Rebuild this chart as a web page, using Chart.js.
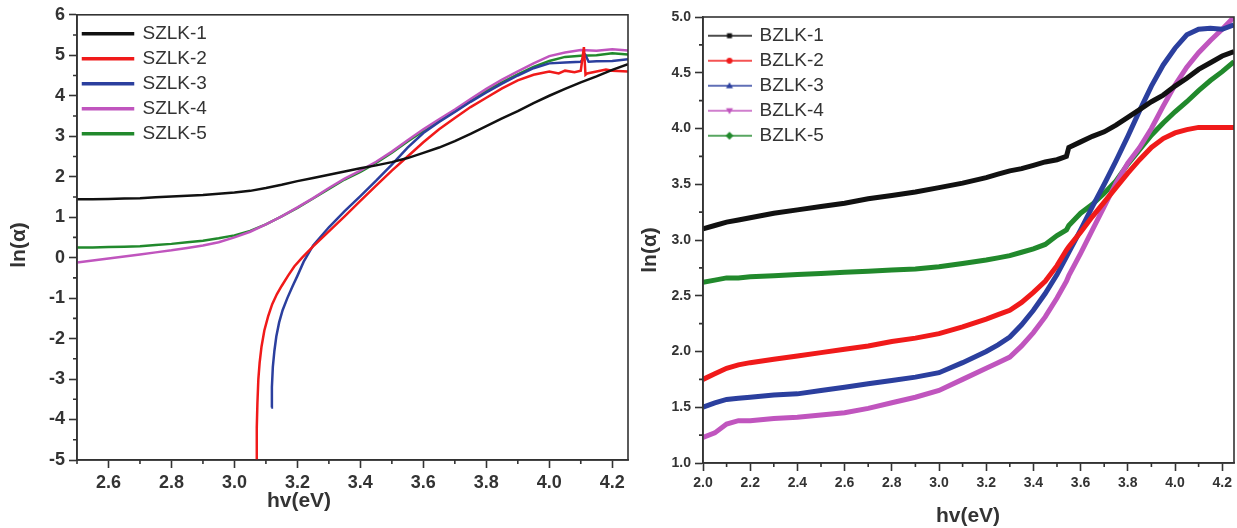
<!DOCTYPE html>
<html>
<head>
<meta charset="utf-8">
<title>ln(α) vs hv</title>
<script src="https://cdn.jsdelivr.net/npm/chart.js@4.4.1/dist/chart.umd.min.js"></script>
<style>
    body { margin: 0; background: #fff; }
    #wrap { position: relative; width: 1237px; height: 528px; overflow: hidden; }
    #wrap canvas { position: absolute; top: 0; }
    #szlkChart { left: 0; }
    #bzlkChart { left: 630px; }
</style>
</head>
<body>
<div id="wrap">
    <canvas id="szlkChart" width="640" height="528"></canvas>
    <canvas id="bzlkChart" width="607" height="528"></canvas>
</div>
<script>
// ---- left panel (SZLK) ----
const szlkEnergy = [2.50, 2.55, 2.60, 2.65, 2.70, 2.75, 2.80, 2.85, 2.90, 2.95,
    3.00, 3.05, 3.10, 3.15, 3.20, 3.25, 3.30, 3.35, 3.40, 3.45,
    3.50, 3.55, 3.60, 3.65, 3.70, 3.75, 3.80, 3.85, 3.90, 3.95,
    4.00, 4.05, 4.10, 4.15, 4.20, 4.25];
const szlk1 = [1.44, 1.44, 1.45, 1.46, 1.47, 1.49, 1.51, 1.53, 1.55, 1.58,
    1.61, 1.65, 1.72, 1.80, 1.89, 1.97, 2.05, 2.13, 2.21, 2.28,
    2.36, 2.46, 2.59, 2.72, 2.88, 3.06, 3.25, 3.44, 3.62, 3.82,
    4.00, 4.17, 4.33, 4.48, 4.64, 4.78];
const szlk4 = [-0.12, -0.07, -0.02, 0.03, 0.08, 0.13, 0.18, 0.24, 0.30, 0.38,
    0.50, 0.64, 0.82, 1.02, 1.24, 1.47, 1.72, 1.95, 2.15, 2.37,
    2.62, 2.90, 3.17, 3.42, 3.66, 3.92, 4.17, 4.40, 4.60, 4.80,
    4.98, 5.07, 5.13, 5.11, 5.15, 5.12];
const szlk5 = [0.25, 0.25, 0.26, 0.27, 0.28, 0.31, 0.34, 0.38, 0.42, 0.48,
    0.55, 0.66, 0.82, 1.02, 1.23, 1.46, 1.70, 1.93, 2.12, 2.34,
    2.59, 2.87, 3.13, 3.38, 3.62, 3.87, 4.12, 4.33, 4.53, 4.71,
    4.86, 4.96, 4.99, 5.00, 5.05, 5.02];
const szlk2Energy = [3.070, 3.071, 3.073, 3.076, 3.080, 3.086, 3.095, 3.107, 3.120, 3.135,
    3.150, 3.170, 3.190, 3.215, 3.25, 3.30, 3.35, 3.40, 3.45, 3.50,
    3.55, 3.60, 3.65, 3.70, 3.75, 3.80, 3.85, 3.90, 3.95, 4.00,
    4.03, 4.05, 4.08, 4.10, 4.11, 4.115, 4.12, 4.15, 4.18, 4.20, 4.25];
const szlk2 = [-5.00, -4.20, -3.60, -3.00, -2.60, -2.20, -1.80, -1.45, -1.15, -0.90,
    -0.70, -0.45, -0.22, 0.00, 0.28, 0.65, 1.02, 1.40, 1.78, 2.15,
    2.50, 2.85, 3.17, 3.45, 3.72, 3.95, 4.18, 4.38, 4.52, 4.60,
    4.55, 4.62, 4.58, 4.62, 5.20, 4.52, 4.55, 4.60, 4.65, 4.62, 4.60];
const szlk3Energy = [3.117, 3.119, 3.122, 3.127, 3.133, 3.142, 3.153, 3.168, 3.185, 3.200,
    3.220, 3.25, 3.30, 3.35, 3.40, 3.45, 3.50, 3.55, 3.60, 3.65,
    3.70, 3.75, 3.80, 3.85, 3.90, 3.95, 4.00, 4.05, 4.10, 4.115,
    4.125, 4.15, 4.20, 4.25];
const szlk3 = [-3.70, -3.20, -2.70, -2.30, -1.95, -1.60, -1.30, -1.00, -0.70, -0.45,
    -0.10, 0.30, 0.75, 1.15, 1.52, 1.90, 2.30, 2.72, 3.08, 3.35,
    3.60, 3.85, 4.08, 4.30, 4.50, 4.68, 4.80, 4.82, 4.84, 5.00,
    4.84, 4.85, 4.86, 4.90];
const szlkTicksX = [2.6, 2.8, 3.0, 3.2, 3.4, 3.6, 3.8, 4.0, 4.2];
const szlkTicksY = [-5, -4, -3, -2, -1, 0, 1, 2, 3, 4, 5, 6];

// ---- right panel (BZLK) ----
const bzlkEnergy = [2.00, 2.05, 2.10, 2.15, 2.20, 2.30, 2.40, 2.50, 2.60, 2.70,
    2.80, 2.90, 3.00, 3.10, 3.20, 3.25, 3.30, 3.35, 3.40, 3.45,
    3.50, 3.54, 3.55, 3.60, 3.65, 3.70, 3.75, 3.80, 3.85, 3.90,
    3.95, 4.00, 4.05, 4.10, 4.15, 4.20, 4.25];
const bzlk1 = [3.10, 3.13, 3.16, 3.18, 3.20, 3.24, 3.27, 3.30, 3.33, 3.37,
    3.40, 3.43, 3.47, 3.51, 3.56, 3.59, 3.62, 3.64, 3.67, 3.70,
    3.72, 3.75, 3.83, 3.88, 3.93, 3.97, 4.03, 4.10, 4.17, 4.24,
    4.30, 4.38, 4.45, 4.53, 4.59, 4.65, 4.69];
const bzlk2 = [1.75, 1.80, 1.85, 1.88, 1.90, 1.93, 1.96, 1.99, 2.02, 2.05,
    2.09, 2.12, 2.16, 2.22, 2.29, 2.33, 2.37, 2.44, 2.53, 2.63,
    2.77, 2.91, 2.94, 3.07, 3.21, 3.34, 3.47, 3.60, 3.72, 3.83,
    3.91, 3.96, 3.99, 4.01, 4.01, 4.01, 4.01];
const bzlk3 = [1.50, 1.54, 1.57, 1.58, 1.59, 1.61, 1.62, 1.65, 1.68, 1.71,
    1.74, 1.77, 1.81, 1.90, 2.00, 2.06, 2.13, 2.24, 2.37, 2.52,
    2.69, 2.85, 2.89, 3.09, 3.30, 3.50, 3.71, 3.93, 4.16, 4.38,
    4.57, 4.72, 4.84, 4.89, 4.90, 4.89, 4.93];
const bzlk4 = [1.23, 1.27, 1.35, 1.38, 1.38, 1.40, 1.41, 1.43, 1.45, 1.49,
    1.54, 1.59, 1.65, 1.75, 1.85, 1.90, 1.95, 2.05, 2.17, 2.31,
    2.48, 2.63, 2.68, 2.88, 3.09, 3.30, 3.51, 3.69, 3.83, 4.00,
    4.20, 4.39, 4.55, 4.68, 4.79, 4.89, 5.00];
const bzlk5 = [2.62, 2.64, 2.66, 2.66, 2.67, 2.68, 2.69, 2.70, 2.71, 2.72,
    2.73, 2.74, 2.76, 2.79, 2.82, 2.84, 2.86, 2.89, 2.92, 2.96,
    3.04, 3.09, 3.13, 3.24, 3.32, 3.42, 3.53, 3.68, 3.81, 3.94,
    4.05, 4.15, 4.24, 4.34, 4.43, 4.51, 4.60];
const bzlkTicksX = [2.0, 2.2, 2.4, 2.6, 2.8, 3.0, 3.2, 3.4, 3.6, 3.8, 4.0, 4.2];
const bzlkTicksY = [1.0, 1.5, 2.0, 2.5, 3.0, 3.5, 4.0, 4.5, 5.0];

const FONT = "'Liberation Sans', Arial, Helvetica, sans-serif";
const INK = '#333333';
const COLORS = ['#111111', '#f01a1a', '#2b3f9e', '#c055be', '#21892c'];

const toPoints = (xs, ys) => xs.map((x, i) => ({x: x, y: ys[i]}));

// box around the plot + the small unlabelled ticks between the big ones
const frameAndMinorTicks = {
    id: 'frameAndMinorTicks',
    afterDraw(chart, args, opts){
        const {ctx, chartArea: a, scales} = chart;
        ctx.save();
        ctx.strokeStyle = INK;
        ctx.lineWidth = opts.lineWidth;
        ctx.strokeRect(a.left, a.top, a.right - a.left, a.bottom - a.top);
        ctx.beginPath();
        ['x', 'y'].forEach((id) => {
            const s = scales[id];
            const major = s.ticks.map(t => t.value);
            const step = major[1] - major[0];
            const minors = [major[0] - step / 2].concat(major.map(v => v + step / 2))
                .filter(v => v >= s.min - 1e-9 && v <= s.max + 1e-9);
            minors.forEach((v) => {
                const p = s.getPixelForValue(v);
                if(s.isHorizontal()){
                    ctx.moveTo(p, a.bottom);
                    ctx.lineTo(p, a.bottom + opts.length);
                } else {
                    ctx.moveTo(a.left, p);
                    ctx.lineTo(a.left - opts.length, p);
                }
            });
        });
        ctx.stroke();
        ctx.restore();
    }
};

// axis captions, placed where the original figure had them
const axisCaptions = {
    id: 'axisCaptions',
    afterDraw(chart, args, opts){
        const ctx = chart.ctx;
        ctx.save();
        ctx.fillStyle = INK;
        ctx.font = 'bold ' + opts.size + 'px ' + FONT;
        ctx.textAlign = 'center';
        ctx.textBaseline = 'middle';
        opts.items.forEach((c) => {
            ctx.save();
            ctx.translate(c.x, c.y);
            if(c.rotate) ctx.rotate(c.rotate);
            ctx.fillText(c.text, 0, 0);
            ctx.restore();
        });
        ctx.restore();
    }
};

// legend sample for the right panel: thin line with its marker in the middle
function legendSample(color, marker){
    const c = document.createElement('canvas');
    c.width = 44;
    c.height = 12;
    const g = c.getContext('2d');
    g.strokeStyle = color;
    g.fillStyle = color;
    g.lineWidth = 1.6;
    g.beginPath();
    g.moveTo(0, 6);
    g.lineTo(44, 6);
    g.stroke();
    g.beginPath();
    if(marker === 'square'){
        g.rect(19.5, 3.5, 5, 5);
    } else if(marker === 'circle'){
        g.arc(22, 6, 3, 0, Math.PI * 2);
    } else if(marker === 'triangle'){
        g.moveTo(22, 2.5); g.lineTo(25.5, 8.5); g.lineTo(18.5, 8.5);
    } else if(marker === 'down'){
        g.moveTo(18.5, 3.5); g.lineTo(25.5, 3.5); g.lineTo(22, 9.5);
    } else {
        g.moveTo(22, 2); g.lineTo(26, 6); g.lineTo(22, 10); g.lineTo(18, 6);
    }
    g.closePath();
    g.fill();
    return c;
}

function scaleOptions(ticks, min, max, fontSize, tickPadding, fixedSize, isX, format){
    return {
        type: 'linear',
        min: min,
        max: max,
        afterBuildTicks: (scale) => { scale.ticks = ticks.map(v => ({value: v})); },
        afterFit: (scale) => { if(isX){ scale.height = fixedSize; } else { scale.width = fixedSize; } },
        grid: {display: true, drawOnChartArea: false, drawTicks: true, tickLength: 8,
            tickColor: INK, tickWidth: 1.6, color: INK},
        border: {display: true, color: INK, width: 1.6},
        ticks: {color: INK, padding: tickPadding, maxRotation: 0, autoSkip: false,
            font: {family: FONT, size: fontSize, weight: 'bold'},
            callback: format}
    };
}

const szlkSeries = [
    {label: 'SZLK-1', data: toPoints(szlkEnergy, szlk1)},
    {label: 'SZLK-2', data: toPoints(szlk2Energy, szlk2)},
    {label: 'SZLK-3', data: toPoints(szlk3Energy, szlk3)},
    {label: 'SZLK-4', data: toPoints(szlkEnergy, szlk4)},
    {label: 'SZLK-5', data: toPoints(szlkEnergy, szlk5)}
];

new Chart(document.getElementById('szlkChart'), {
    type: 'line',
    data: {
        datasets: szlkSeries.map((s, i) => ({
            label: s.label, data: s.data, borderColor: COLORS[i], backgroundColor: COLORS[i],
            borderWidth: 2.5, pointRadius: 0, tension: 0, clip: 0
        }))
    },
    options: {
        responsive: false,
        animation: false,
        layout: {padding: {top: 13, right: 12, left: 0, bottom: 0}},
        scales: {
            x: scaleOptions(szlkTicksX, 2.5, 4.25, 18, 4, 68, true, v => v.toFixed(1)),
            y: scaleOptions(szlkTicksY, -5, 6, 18, 4, 77, false, v => String(v))
        },
        plugins: {
            tooltip: {enabled: false},
            legend: {
                position: 'chartArea',
                align: 'start',
                // the legend box starts at the canvas top, so the title pushes it into the plot
                title: {display: true, text: '', padding: {top: 17, bottom: 0}, font: {size: 1}},
                labels: {boxWidth: 50, boxHeight: 1, padding: 6, color: INK,
                    font: {family: FONT, size: 19}}
            },
            frameAndMinorTicks: {lineWidth: 1.6, length: 4},
            axisCaptions: {size: 21, items: [
                {text: 'hv(eV)', x: 299, y: 501},
                {text: 'ln(α)', x: 19, y: 245, rotate: -Math.PI / 2}
            ]}
        }
    },
    plugins: [frameAndMinorTicks, axisCaptions]
});

const bzlkSeries = [
    {label: 'BZLK-1', values: bzlk1, marker: 'square'},
    {label: 'BZLK-2', values: bzlk2, marker: 'circle'},
    {label: 'BZLK-3', values: bzlk3, marker: 'triangle'},
    {label: 'BZLK-4', values: bzlk4, marker: 'down'},
    {label: 'BZLK-5', values: bzlk5, marker: 'diamond'}
];

new Chart(document.getElementById('bzlkChart'), {
    type: 'line',
    data: {
        datasets: bzlkSeries.map((s, i) => ({
            label: s.label, data: toPoints(bzlkEnergy, s.values),
            borderColor: COLORS[i], backgroundColor: COLORS[i],
            borderWidth: 5, pointRadius: 0, tension: 0, clip: 0
        }))
    },
    options: {
        responsive: false,
        animation: false,
        layout: {padding: {top: 17, right: 3, left: 0, bottom: 0}},
        scales: {
            x: scaleOptions(bzlkTicksX, 2.0, 4.25, 14, 4, 65, true, v => v.toFixed(1)),
            y: scaleOptions(bzlkTicksY, 1.0, 5.0, 14, 4, 73, false, v => v.toFixed(1))
        },
        plugins: {
            tooltip: {enabled: false},
            legend: {
                position: 'chartArea',
                align: 'start',
                title: {display: true, text: '', padding: {top: 19, bottom: 0}, font: {size: 1}},
                labels: {
                    usePointStyle: true, pointStyleWidth: 41, padding: 6, color: INK,
                    font: {family: FONT, size: 19},
                    generateLabels: (chart) => {
                        const items = Chart.defaults.plugins.legend.labels.generateLabels(chart);
                        items.forEach((item, i) => {
                            item.pointStyle = legendSample(COLORS[i], bzlkSeries[i].marker);
                        });
                        return items;
                    }
                }
            },
            frameAndMinorTicks: {lineWidth: 1.6, length: 4},
            axisCaptions: {size: 21, items: [
                {text: 'hv(eV)', x: 338, y: 516},
                {text: 'ln(α)', x: 20, y: 250, rotate: -Math.PI / 2}
            ]}
        }
    },
    plugins: [frameAndMinorTicks, axisCaptions]
});
</script>
</body>
</html>
